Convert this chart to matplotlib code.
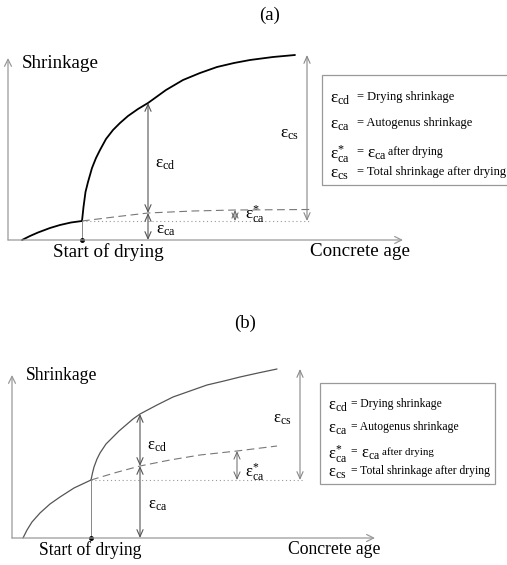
import numpy as np
import matplotlib.pyplot as plt

plt.rcParams['font.family'] = ['Liberation Serif', 'DejaVu Serif']
plt.rcParams['mathtext.fontset'] = 'custom'
plt.rcParams['mathtext.rm'] = 'Liberation Serif'
plt.rcParams['mathtext.it'] = 'Liberation Serif:italic'

# ---- panel (a): shape (arbitrary units, origin at axes crossing)
a_auto_before_x = [14, 22, 30, 42, 52, 63, 74]
a_auto_before_y = [0, 4, 7.5, 12, 15, 17.5, 19]
a_dry_x = [74, 75.5, 77.5, 80, 84, 88, 92, 98, 105, 112, 120, 130, 140, 158, 175, 192,
           209, 226, 242, 265, 287]
a_dry_y = [19, 33, 48, 58, 72, 82, 90, 101, 110, 117, 124, 131, 137, 150, 160, 167,
           173, 177, 180, 183, 185]
a_auto_after_x = [74, 110, 140, 185, 227, 302]
a_auto_after_y = [19, 23.5, 27, 29, 30, 30.5]
a_dry_start = 74
a_arrow_x = 140
a_cs_x = 299
a_star_x = 227

# ---- panel (b)
b_auto_before_x = [11, 15, 20, 28, 38, 48, 62, 79]
b_auto_before_y = [0, 8, 16, 25, 34, 41, 50, 58]
b_dry_x = [79, 80.5, 82, 85, 88, 94, 101, 107, 114, 121, 128, 145, 161, 178, 195, 212,
           228, 246, 265]
b_dry_y = [58, 65, 71, 79, 85, 94, 101, 107, 113, 119, 124, 133, 141, 147, 153, 157,
           161, 165, 169]
b_auto_after_x = [79, 104, 128, 158, 188, 225, 265]
b_auto_after_y = [58, 65.5, 72, 78, 83, 87, 92]
b_dry_start = 79
b_arrow_x = 128
b_cs_x = 288
b_star_x = 225

legend_lines = [
    (r'$\mathrm{ε_{cd}}$', '= Drying shrinkage'),
    (r'$\mathrm{ε_{ca}}$', '= Autogenus shrinkage'),
    (r'$\mathrm{ε_{ca}^{*}}$', '= '),
    (r'$\mathrm{ε_{cs}}$', '= Total shrinkage after drying'),
]

W, H = 507, 565
fig = plt.figure(figsize=(W / 100, H / 100), dpi=100)

axis_col = '#9a9a9a'


def darrow(ax, x, y0, y1, col, lw=0.8, style='<->'):
    ax.annotate('', xy=(x, y1), xytext=(x, y0),
                arrowprops=dict(arrowstyle=style + ',head_length=0.5,head_width=0.22',
                                color=col, lw=lw, shrinkA=0, shrinkB=0))


def panel(ax, p):
    ax.set_axis_off()
    # axes arrows
    ax.annotate('', xy=(0, p['ytop']), xytext=(0, 0),
                arrowprops=dict(arrowstyle='->,head_length=0.5,head_width=0.25',
                                color=axis_col, lw=0.9, shrinkA=0, shrinkB=0))
    ax.annotate('', xy=(p['xend'], 0), xytext=(0, 0),
                arrowprops=dict(arrowstyle='->,head_length=0.5,head_width=0.25',
                                color=axis_col, lw=0.9, shrinkA=0, shrinkB=0))
    lc, lw = p['lc'], p['lw']
    ax.plot(p['bx'], p['by'], color=lc, lw=lw, solid_capstyle='round', solid_joinstyle='round')
    ax.plot(p['dx'], p['dy'], color=lc, lw=lw, solid_capstyle='round', solid_joinstyle='round')
    ax.plot(p['ax_'], p['ay'], color='#777777', lw=0.8, ls=(0, (7, 4)))
    y_start = p['by'][-1]
    ax.plot([p['ds'], p['cs_x'] + 3], [y_start, y_start], color='#999999', lw=0.8, ls=(0, (1, 2.5)))
    ax.plot([p['ds'], p['ds']], [0, y_start], color='#888888', lw=0.7)
    ax.plot([p['ds']], [0], 'o', color='black', ms=2.5)

    y_mid = np.interp(p['arrow_x'], p['ax_'], p['ay'])
    y_top = np.interp(p['arrow_x'], p['dx'], p['dy'])
    darrow(ax, p['arrow_x'], 0, y_mid, '#555555')
    darrow(ax, p['arrow_x'], y_mid, y_top, '#555555')
    y_star = np.interp(p['star_x'], p['ax_'], p['ay'])
    darrow(ax, p['star_x'], y_start, y_star, '#666666', lw=0.7)
    darrow(ax, p['cs_x'], y_start, p['dy'][-1], '#888888', lw=0.8)

    fs = p['fs']
    ax.text(p['arrow_x'] + 7, (y_mid + y_top) / 2 - 6, r'$\mathrm{ε_{cd}}$', fontsize=fs,
            ha='left', va='center')
    ax.text(p['arrow_x'] + 8, y_mid / 2 - 3, r'$\mathrm{ε_{ca}}$', fontsize=fs,
            ha='left', va='center')
    ax.text(p['cs_x'] - 27, p['cs_lab_y'], r'$\mathrm{ε_{cs}}$', fontsize=fs,
            ha='left', va='center')
    ax.text(p['star_x'] + p['star_dx'], p['star_lab_y'], r'$\mathrm{ε_{ca}^{*}}$', fontsize=fs,
            ha='left', va='center')

    ax.text(14, p['ytop'] + p['sh_dy'], 'Shrinkage', fontsize=p['lab_fs'], ha='left', va='center')
    ax.text(p['ds'] + p['sd_dx'], -12, 'Start of drying', fontsize=p['lab_fs'],
            ha='center', va='center')
    ax.text(p['ca_x'], -12, 'Concrete age', fontsize=p['lab_fs'], ha='center', va='center')
    ax.text(p['title_x'], p['title_y'], p['title'], fontsize=13.5, ha='center', va='center')

    # legend box
    bx0, bx1, by0, by1 = p['box']
    ax.add_patch(plt.Rectangle((bx0, by0), bx1 - bx0, by1 - by0, fill=False,
                               ec='#999999', lw=0.9, clip_on=False))
    lfs = p['leg_fs']
    for (sym, txt), ly in zip(legend_lines, p['leg_y']):
        ax.text(p['leg_x'], ly, sym, fontsize=lfs + 3.5, ha='left', va='center')
        ax.text(p['leg_x'] + p['leg_dx'], ly + 2, txt, fontsize=lfs, ha='left', va='center')
    ly = p['leg_y'][2]
    ax.text(p['leg_x'] + p['leg_dx'] + 10, ly, r'$\mathrm{ε_{ca}}$', fontsize=lfs + 3.5,
            ha='left', va='center')
    ax.text(p['leg_x'] + p['leg_dx'] + 31, ly + 2, 'after drying', fontsize=lfs - 0.6,
            ha='left', va='center')


# panel (a): origin at pixel (8, 240)
ax1 = fig.add_axes([0, (H - 280) / H, 1, 280 / H])
ax1.set_xlim(-8, W - 8)
ax1.set_ylim(-40, 240)
panel(ax1, dict(ytop=182, xend=395, lc='black', lw=1.3,
                bx=a_auto_before_x, by=a_auto_before_y, dx=a_dry_x, dy=a_dry_y,
                ax_=a_auto_after_x, ay=a_auto_after_y, ds=a_dry_start,
                arrow_x=a_arrow_x, cs_x=a_cs_x, star_x=a_star_x, star_dx=10,
                star_lab_y=26, cs_lab_y=106, fs=12.5, lab_fs=13.7, sh_dy=-6,
                sd_dx=26, ca_x=352, title='(a)', title_x=262, title_y=225,
                box=(314, 515, 55, 165), leg_x=322, leg_dx=27,
                leg_y=[141, 115, 86, 66], leg_fs=9.0))

# panel (b): origin at pixel (12, 538)
ax2 = fig.add_axes([0, 0, 1, 285 / H])
ax2.set_xlim(-12, W - 12)
ax2.set_ylim(-27, 258)
panel(ax2, dict(ytop=163, xend=363, lc='#555555', lw=0.9,
                bx=b_auto_before_x, by=b_auto_before_y, dx=b_dry_x, dy=b_dry_y,
                ax_=b_auto_after_x, ay=b_auto_after_y, ds=b_dry_start,
                arrow_x=b_arrow_x, cs_x=b_cs_x, star_x=b_star_x, star_dx=8,
                star_lab_y=66, cs_lab_y=119, fs=12, lab_fs=12.7, sh_dy=-1,
                sd_dx=-1, ca_x=322, title='(b)', title_x=233, title_y=215,
                box=(308, 483, 54, 155), leg_x=316, leg_dx=23,
                leg_y=[132, 109, 84, 65], leg_fs=8.4))

fig.savefig('out.png', dpi=100)
